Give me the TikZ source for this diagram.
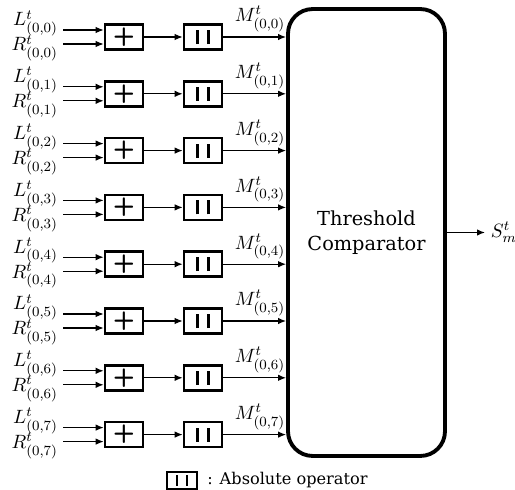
\documentclass[tikz,border=0pt]{standalone}
\usepackage{amsmath,amssymb}
\usepackage{fontspec}
\usetikzlibrary{arrows.meta,positioning,calc}
\newfontfamily\labfont{DejaVu Serif}

\begin{document}
\begin{tikzpicture}[
  x=0.02cm,y=-0.02cm,
  >={Latex[length=1.6mm,width=1.3mm]},
  every node/.style={font=\fontsize{11}{13}\selectfont},
  opbox/.style ={draw,line width=1.5pt,minimum width=0.76cm,minimum height=0.5cm,
                 inner sep=0pt},
  cmpbox/.style={draw,line width=2.2pt,rounded corners=14pt,minimum width=3.14cm,
                 minimum height=8.94cm,align=center,
                 font=\labfont\fontsize{11}{14}\selectfont},
  wire/.style  ={->,line width=0.7pt}
]
\useasboundingbox (0,0) rectangle (515,490);

\node[cmpbox] (cmp) at (366.5,232.5) {Threshold\\Comparator};

\foreach \i in {0,...,7}{
  \pgfmathsetmacro{\yy}{37+56.8*\i}
  \node[opbox] (plus\i) at (124,\yy) {\textsf{\textbf{\Large +}}};
  \node[opbox] (abs\i)  at (203,\yy) {\rule{1.4pt}{8pt}\hspace{5pt}\rule{1.4pt}{8pt}};
  \coordinate (l\i) at (63,\yy-7);
  \coordinate (r\i) at (63,\yy+7);
  \node[anchor=base east,inner sep=1pt] at ($(l\i)+(-3,-4)$) {$L^t_{(0,\i)}$};
  \node[anchor=base east,inner sep=1pt] at ($(r\i)+(-3,7)$) {$R^t_{(0,\i)}$};
  \draw[wire] (l\i) -- (l\i -| plus\i.west);
  \draw[wire] (r\i) -- (r\i -| plus\i.west);
  \draw[wire] (plus\i) -- (abs\i);
  \draw[wire] (abs\i) -- (abs\i -| cmp.west)
    node[midway,anchor=south,inner sep=0pt,xshift=3pt,yshift=2.5pt] {$M^t_{(0,\i)}$};
}

\coordinate (sout) at (485,232.5);
\draw[wire] (cmp) -- (sout) node[right,inner sep=3pt] {$S^t_m$};

\node[opbox,minimum width=0.6cm,minimum height=0.34cm] (leg) at (182,480.5)
  {\rule{1.3pt}{6pt}\hspace{4pt}\rule{1.3pt}{6pt}};
\node[right=5pt of leg,inner sep=0pt,font=\labfont\fontsize{9.2}{11}\selectfont] (legtxt)
  {: Absolute operator};
\end{tikzpicture}
\end{document}
